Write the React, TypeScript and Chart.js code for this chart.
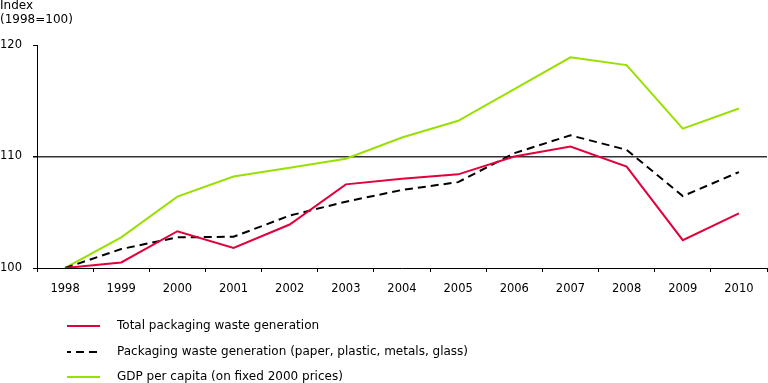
import React, { useEffect, useRef } from "react";
import { Chart, registerables } from "chart.js";

Chart.register(...registerables);

const years = ["1998", "1999", "2000", "2001", "2002", "2003", "2004", "2005", "2006", "2007", "2008", "2009", "2010"];
const totalPackaging = [100, 100.5, 103.3, 101.8, 103.9, 107.5, 108.0, 108.4, 110.0, 110.9, 109.1, 102.5, 104.9];
const packagingMaterials = [100, 101.7, 102.75, 102.8, 104.7, 105.95, 107.0, 107.7, 110.3, 111.9, 110.6, 106.45, 108.6];
const gdpPerCapita = [100, 102.75, 106.4, 108.2, 109.0, 109.8, 111.7, 113.2, 116.05, 118.9, 118.2, 112.5, 114.3];
const yTicks = [100, 110, 120];
const seriesLabels = [
  "Total packaging waste generation",
  "Packaging waste generation (paper, plastic, metals, glass)",
  "GDP per capita (on fixed 2000 prices)",
];
const axisTitle = ["Index", "(1998=100)"];

const FONT = "'DejaVu Sans', Verdana, sans-serif";

const extrasPlugin = {
  id: "extras",
  afterDraw(chart: any) {
    const ctx = chart.ctx as CanvasRenderingContext2D;
    ctx.save();
    ctx.font = `12px ${FONT}`;
    ctx.fillStyle = "#000";
    ctx.textBaseline = "middle";
    ctx.textAlign = "left";
    ctx.fillText(axisTitle[0], 0, 6);
    ctx.fillText(axisTitle[1], 0, 20);
    const rows = [326, 352, 377];
    chart.data.datasets.forEach((ds: any, i: number) => {
      const y = rows[i];
      ctx.save();
      ctx.strokeStyle = ds.borderColor;
      ctx.lineWidth = ds.borderWidth;
      ctx.setLineDash(ds.borderDash || []);
      ctx.lineDashOffset = ds.borderDash ? 4 : 0;
      ctx.beginPath();
      ctx.moveTo(67, y);
      ctx.lineTo(100, y);
      ctx.stroke();
      ctx.restore();
      ctx.fillText(ds.label, 117, y);
    });
    ctx.restore();
  },
};

export default function App() {
  const ref = useRef<HTMLCanvasElement>(null);
  useEffect(() => {
    document.body.style.margin = "0";
    const canvas = ref.current!;
    const chart = new Chart(canvas, {
      type: "line",
      data: {
        labels: years,
        datasets: [
          {
            label: seriesLabels[0],
            data: totalPackaging,
            borderColor: "#e2003c",
            backgroundColor: "#e2003c",
            borderWidth: 2,
            pointRadius: 0,
            tension: 0,
          },
          {
            label: seriesLabels[1],
            data: packagingMaterials,
            borderColor: "#000000",
            backgroundColor: "#000000",
            borderWidth: 2,
            borderDash: [8, 5],
            pointRadius: 0,
            tension: 0,
          },
          {
            label: seriesLabels[2],
            data: gdpPerCapita,
            borderColor: "#99e000",
            backgroundColor: "#99e000",
            borderWidth: 2,
            pointRadius: 0,
            tension: 0,
          },
        ],
      },
      options: {
        responsive: false,
        animation: false,
        layout: { padding: { top: 45, right: 1, left: 0, bottom: 0 } },
        plugins: {
          legend: { display: false },
          tooltip: { enabled: false },
          title: { display: false },
        },
        scales: {
          x: {
            offset: true,
            afterFit: (s: any) => {
              s.height = 115;
            },
            grid: {
              offset: true,
              drawOnChartArea: false,
              drawTicks: true,
              tickLength: 4,
              tickColor: "#000",
              color: "#000",
              lineWidth: 1,
            },
            border: { display: true, color: "#000", width: 1 },
            ticks: {
              color: "#000",
              font: { family: FONT, size: 11.5 },
              padding: 10,
              maxRotation: 0,
              autoSkip: false,
            },
          },
          y: {
            min: 100,
            max: 120,
            afterFit: (s: any) => {
              s.width = 37;
            },
            afterBuildTicks: (s: any) => {
              s.ticks = yTicks.map((v) => ({ value: v }));
            },
            grid: {
              drawTicks: true,
              tickLength: 4,
              tickColor: "#000",
              color: (c: any) => (c.tick && c.tick.value === 110 ? "#333" : "rgba(0,0,0,0)"),
              lineWidth: (c: any) => (c.tick && c.tick.value === 110 ? 1.5 : 1),
            },
            border: { display: true, color: "#000", width: 1 },
            ticks: {
              color: "#000",
              font: { family: FONT, size: 11.5 },
              padding: 11,
            },
          },
        },
      },
      plugins: [extrasPlugin],
    });
    return () => chart.destroy();
  }, []);
  return (
    <div style={{ width: 768, height: 383 }}>
      <canvas ref={ref} width={768} height={383} />
    </div>
  );
}
